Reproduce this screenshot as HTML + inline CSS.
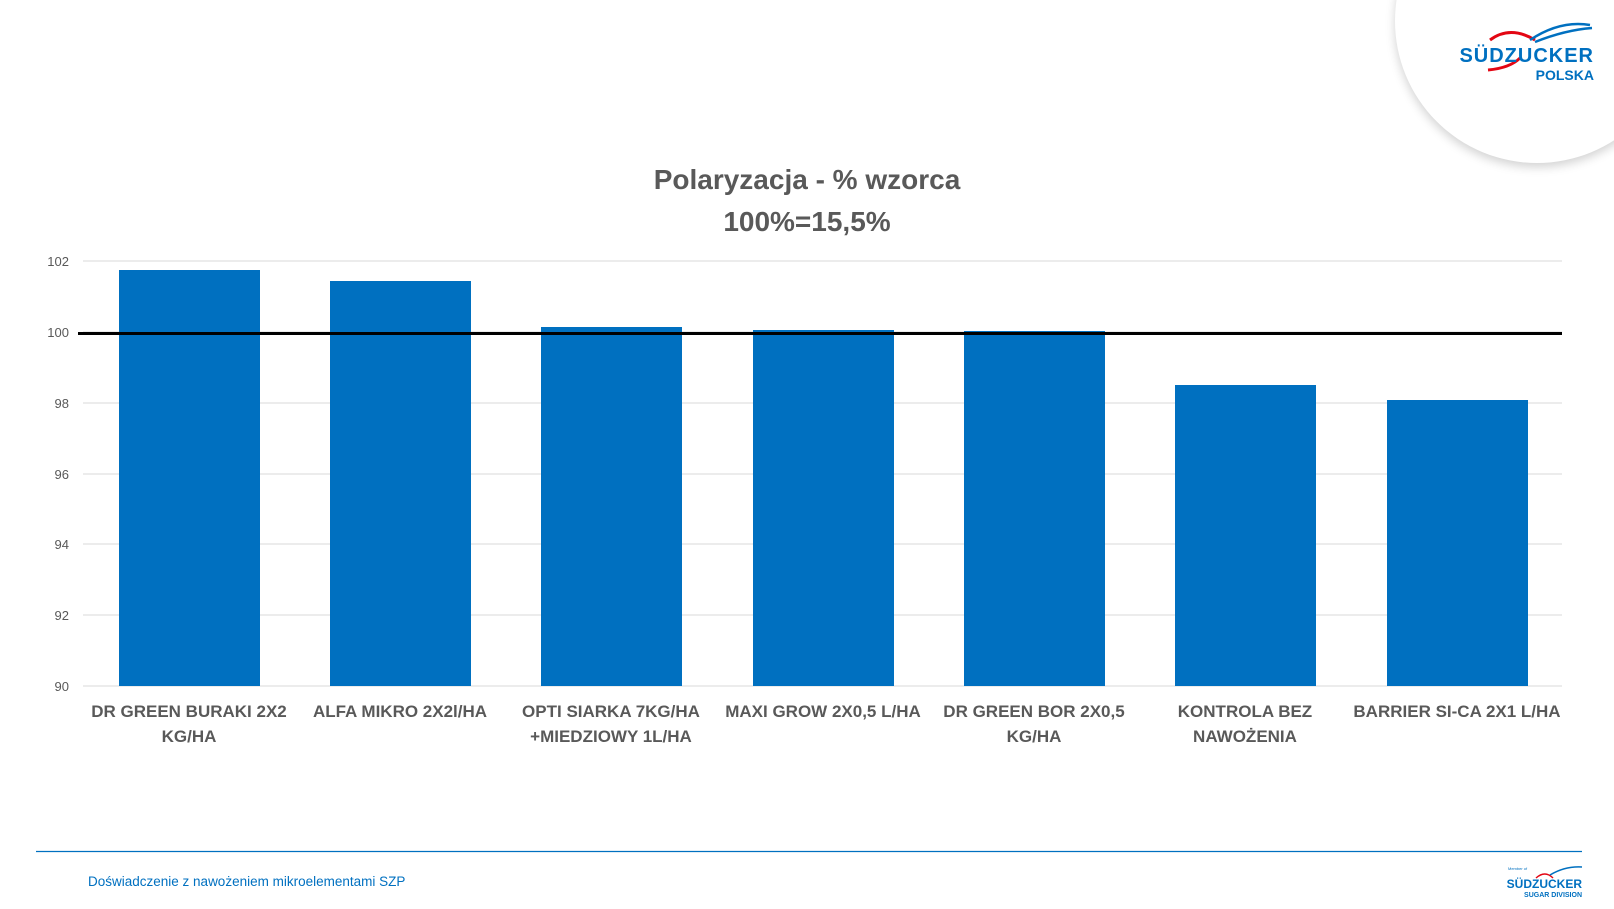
<!DOCTYPE html>
<html><head><meta charset="utf-8"><style>
body{margin:0;width:1614px;height:909px;background:#fff;position:relative;overflow:hidden;font-family:"Liberation Sans",sans-serif}
.circ{position:absolute;left:1395px;top:-121px;width:284px;height:284px;border-radius:50%;background:#fff;box-shadow:0 4px 10px rgba(0,0,0,0.18)}
</style></head><body>
<div class="circ"></div>
<svg width="1614" height="909" style="position:absolute;left:0;top:0">
<g font-family="Liberation Sans, sans-serif">
<path d="M1490 40 Q1510 25 1535 40" stroke="#e30613" stroke-width="3" fill="none"/>
<path d="M1488 70 Q1510 68 1520 58" stroke="#e30613" stroke-width="3" fill="none"/>
<path d="M1530 40 Q1560 20 1590 25 M1535 42 Q1565 30 1592 28" stroke="#0070c0" stroke-width="2.5" fill="none"/>
<text x="1594" y="62" font-size="20" font-weight="bold" fill="#0070c0" text-anchor="end" letter-spacing="1">SÜDZUCKER</text>
<text x="1594" y="80" font-size="14" font-weight="bold" fill="#0070c0" text-anchor="end">POLSKA</text>
<text x="807" y="189" font-size="28" font-weight="bold" fill="#595959" text-anchor="middle">Polaryzacja - % wzorca</text>
<text x="807" y="231" font-size="28" font-weight="bold" fill="#595959" text-anchor="middle">100%=15,5%</text>
<g stroke="#d9d9d9" stroke-width="1">
<line x1="83" x2="1562" y1="261" y2="261"/><line x1="83" x2="1562" y1="332" y2="332"/>
<line x1="83" x2="1562" y1="403" y2="403"/><line x1="83" x2="1562" y1="474" y2="474"/>
<line x1="83" x2="1562" y1="544" y2="544"/><line x1="83" x2="1562" y1="615" y2="615"/>
<line x1="83" x2="1562" y1="686" y2="686"/></g>
<g font-size="13" fill="#595959" text-anchor="end">
<text x="69" y="266">102</text><text x="69" y="337">100</text><text x="69" y="408">98</text>
<text x="69" y="479">96</text><text x="69" y="549">94</text><text x="69" y="620">92</text><text x="69" y="691">90</text></g>
<g fill="#0070c0">
<rect x="119" y="270" width="141" height="416"/>
<rect x="330" y="281" width="141" height="405"/>
<rect x="541" y="327" width="141" height="359"/>
<rect x="753" y="330" width="141" height="356"/>
<rect x="964" y="331" width="141" height="355"/>
<rect x="1175" y="385" width="141" height="301"/>
<rect x="1387" y="400" width="141" height="286"/></g>
<line x1="78" x2="1562" y1="333.5" y2="333.5" stroke="#000" stroke-width="3"/>
<g font-size="17" font-weight="bold" fill="#595959" text-anchor="middle">
<text x="189" y="717">DR GREEN BURAKI 2X2</text><text x="189" y="742">KG/HA</text>
<text x="400" y="717">ALFA MIKRO 2X2l/HA</text>
<text x="611" y="717">OPTI SIARKA 7KG/HA</text><text x="611" y="742">+MIEDZIOWY 1L/HA</text>
<text x="823" y="717">MAXI GROW 2X0,5 L/HA</text>
<text x="1034" y="717">DR GREEN BOR 2X0,5</text><text x="1034" y="742">KG/HA</text>
<text x="1245" y="717">KONTROLA BEZ</text><text x="1245" y="742">NAWOŻENIA</text>
<text x="1457" y="717">BARRIER SI-CA 2X1 L/HA</text></g>
<line x1="36" x2="1582" y1="851.5" y2="851.5" stroke="#0070c0" stroke-width="1.3"/>
<text x="88" y="886" font-size="13.5" fill="#0070c0">Doświadczenie z nawożeniem mikroelementami SZP</text>
<text x="1508" y="870" font-size="4" fill="#0070c0">Member of</text>
<path d="M1536 878 Q1545 870 1553 878" stroke="#e30613" stroke-width="1.5" fill="none"/>
<path d="M1550 875 Q1565 866 1582 867" stroke="#0070c0" stroke-width="1.5" fill="none"/>
<text x="1582" y="888" font-size="12" font-weight="bold" fill="#0070c0" text-anchor="end">SÜDZUCKER</text>
<text x="1582" y="897" font-size="7" font-weight="bold" fill="#0070c0" text-anchor="end">SUGAR   DIVISION</text>
</g></svg>
</body></html>
